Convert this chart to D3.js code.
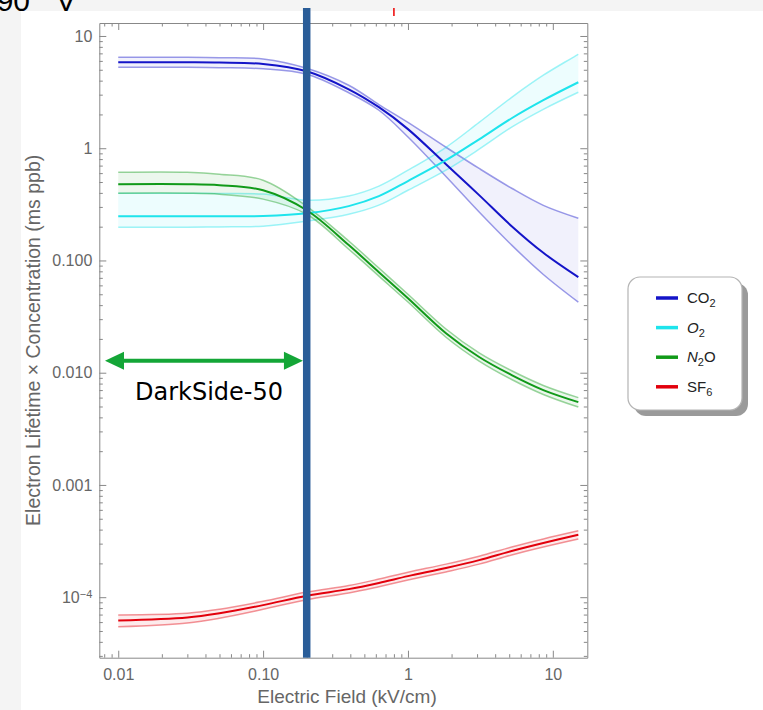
<!DOCTYPE html>
<html>
<head>
<meta charset="utf-8">
<script src="https://cdn.jsdelivr.net/npm/d3@7"></script>
<style>
  body { margin: 0; background: #fff; }
  svg { display: block; }
</style>
</head>
<body>
<div id="chart"></div>
<script>
// electric field sample points (kV/cm)
const field = [0.01, 0.03, 0.05, 0.1, 0.2, 0.39, 0.63, 1.0, 1.83, 3.1, 5.2, 8.6, 15];

// electron lifetime x concentration (ms ppb): central, upper, lower
const co2 = [5.83, 5.83, 5.8, 5.63, 4.85, 3.35, 2.32, 1.48, 0.72, 0.382, 0.202, 0.117, 0.071];
const co2Hi = [6.46, 6.46, 6.4, 6.25, 5.16, 3.64, 2.45, 1.7, 1.02, 0.66, 0.44, 0.31, 0.238];
const co2Lo = [5.26, 5.26, 5.22, 5.1, 4.56, 3.12, 2.18, 1.26, 0.56, 0.27, 0.137, 0.075, 0.0425];

const o2 = [0.248, 0.248, 0.248, 0.249, 0.263, 0.305, 0.374, 0.51, 0.782, 1.2, 1.85, 2.68, 3.87];
const o2Hi = [0.397, 0.397, 0.395, 0.39, 0.344, 0.375, 0.459, 0.637, 1.02, 1.7, 2.84, 4.47, 6.87];
const o2Lo = [0.198, 0.198, 0.199, 0.202, 0.224, 0.258, 0.311, 0.422, 0.637, 0.98, 1.54, 2.22, 3.15];

const n2o = [0.478, 0.478, 0.468, 0.422, 0.28, 0.137, 0.0787, 0.0461, 0.0225, 0.0138, 0.00952, 0.007, 0.00547];
const n2oHi = [0.611, 0.611, 0.586, 0.519, 0.304, 0.149, 0.0856, 0.05, 0.0245, 0.015, 0.0104, 0.0077, 0.006];
const n2oLo = [0.397, 0.397, 0.389, 0.352, 0.258, 0.126, 0.0725, 0.0426, 0.0207, 0.0127, 0.0087, 0.0064, 0.00494];

const sf6 = [6.2e-5, 6.6e-5, 7.2e-5, 8.5e-5, 1.03e-4, 1.18e-4, 1.34e-4, 1.54e-4, 1.82e-4, 2.14e-4, 2.58e-4, 3.04e-4, 3.6e-4];
const sf6Hi = [6.95e-5, 7.2e-5, 7.8e-5, 9.2e-5, 1.11e-4, 1.27e-4, 1.45e-4, 1.67e-4, 1.97e-4, 2.32e-4, 2.8e-4, 3.3e-4, 3.9e-4];
const sf6Lo = [5.45e-5, 5.9e-5, 6.5e-5, 7.8e-5, 9.5e-5, 1.09e-4, 1.24e-4, 1.42e-4, 1.68e-4, 1.97e-4, 2.38e-4, 2.8e-4, 3.3e-4];

const gasNames = ["CO2", "O2", "N2O", "SF6"];
const gasColors = ["#1414c8", "#1ee4ec", "#119a19", "#e2000c"];

const xTicks = [0.01, 0.1, 1, 10];
const xTickLabels = ["0.01", "0.10", "1", "10"];
const yTicks = [1e-4, 1e-3, 1e-2, 1e-1, 1, 10];
const yTickLabels = ["10-4", "0.001", "0.010", "0.100", "1", "10"];

// DarkSide-50 operating field and the arrow under it
const darkSideField = 0.2;
const arrowSpan = [0.0081, 0.2];
const arrowLevel = 0.01276;
const redMarkField = 0.8;

const W = 763, H = 710;
const frame = { left: 99.3, right: 587.3, top: 23, bottom: 657.7 };
const font = "'Liberation Sans', Arial, Helvetica, sans-serif";

const x = d3.scaleLog().domain([0.0074, 17.3]).range([frame.left, frame.right]);
const y = d3.scaleLog().domain([2.89e-5, 13.05]).range([frame.bottom, frame.top]);

const svg = d3.select("#chart").append("svg").attr("width", W).attr("height", H);

svg.append("rect").attr("width", W).attr("height", H).attr("fill", "#f4f4f4");
svg.append("rect").attr("x", 21).attr("y", 11).attr("width", W - 21).attr("height", H - 11).attr("fill", "#fff");

// cropped leftovers at the very top
svg.append("text").attr("x", 30).attr("y", 11).attr("text-anchor", "end")
  .attr("font-family", font).attr("font-size", 30).attr("fill", "#000").text("90");
svg.append("text").attr("x", 66).attr("y", 11).attr("text-anchor", "middle")
  .attr("font-family", font).attr("font-size", 30).attr("fill", "#000").text("V");
svg.append("line").attr("x1", x(redMarkField)).attr("x2", x(redMarkField)).attr("y1", 8).attr("y2", 16)
  .attr("stroke", "#e00").attr("stroke-width", 1.5);

// minor tick values
const minors = (lo, hi) => {
  const out = [];
  for (let e = Math.floor(Math.log10(lo)); e <= Math.ceil(Math.log10(hi)); e++)
    for (let k = 2; k <= 9; k++) {
      const v = k * Math.pow(10, e);
      if (v > lo && v < hi) out.push(v);
    }
  return out;
};
const xMinor = minors(x.domain()[0], x.domain()[1]);
const yMinor = minors(y.domain()[0], y.domain()[1]);

const axisStyle = (g) => {
  g.selectAll("path,line").attr("stroke", "#888").attr("stroke-width", 1);
  g.selectAll("text").attr("fill", "#666").attr("font-family", font).attr("font-size", 16);
};

const addAxis = (axisFn, scale, pos, major, labels) => {
  const vertical = axisFn === d3.axisLeft || axisFn === d3.axisRight;
  const gMinor = svg.append("g").attr("transform", pos)
    .call(axisFn(scale).tickValues(vertical ? yMinor : xMinor)
      .tickSize(-3.5).tickSizeOuter(0).tickFormat(""));
  gMinor.select(".domain").remove();
  const g = svg.append("g").attr("transform", pos)
    .call(axisFn(scale).tickValues(major).tickSize(-7).tickSizeOuter(0).tickPadding(7)
      .tickFormat(labels ? (d, i) => labels[i] : ""));
  axisStyle(gMinor);
  axisStyle(g);
  return g;
};

const gx = addAxis(d3.axisBottom, x, `translate(0,${frame.bottom})`, xTicks, xTickLabels);
addAxis(d3.axisTop, x, `translate(0,${frame.top})`, xTicks, null);
const gy = addAxis(d3.axisLeft, y, `translate(${frame.left},0)`, yTicks, yTickLabels);
addAxis(d3.axisRight, y, `translate(${frame.right},0)`, yTicks, null);

gx.selectAll("text").attr("dy", "0.95em");
gy.selectAll("text").each(function (d, i) {
  const t = d3.select(this);
  if (yTickLabels[i] === "10-4") {
    t.text("10");
    t.append("tspan").attr("dy", "-0.45em").attr("font-size", 11).text("\u22124");
  }
});

// axis titles
svg.append("text").attr("x", 347).attr("y", 703)
  .attr("text-anchor", "middle").attr("font-family", font).attr("font-size", 19).attr("fill", "#666")
  .text("Electric Field (kV/cm)");
svg.append("text").attr("transform", `translate(40,${(frame.top + frame.bottom) / 2}) rotate(-90)`)
  .attr("text-anchor", "middle").attr("font-family", font).attr("font-size", 19.5).attr("fill", "#666")
  .text("Electron Lifetime \u00d7 Concentration (ms ppb)");

// curves
const series = [
  { mid: co2, hi: co2Hi, lo: co2Lo },
  { mid: o2, hi: o2Hi, lo: o2Lo },
  { mid: n2o, hi: n2oHi, lo: n2oLo },
  { mid: sf6, hi: sf6Hi, lo: sf6Lo },
];

const curve = d3.curveCatmullRom.alpha(0.5);
const line = d3.line().x((d) => x(d[0])).y((d) => y(d[1])).curve(curve);
const area = d3.area().x((d) => x(d[0])).y0((d) => y(d[1])).y1((d) => y(d[2])).curve(curve);

const plot = svg.append("g");
series.forEach((s, i) => {
  const c = gasColors[i];
  plot.append("path").attr("d", area(field.map((f, j) => [f, s.lo[j], s.hi[j]])))
    .attr("fill", c).attr("fill-opacity", i === 0 ? 0.06 : 0.08);
  [s.hi, s.lo].forEach((b) => {
    plot.append("path").attr("d", line(field.map((f, j) => [f, b[j]])))
      .attr("fill", "none").attr("stroke", c).attr("stroke-opacity", 0.42).attr("stroke-width", 1.5);
  });
});
series.forEach((s, i) => {
  plot.append("path").attr("d", line(field.map((f, j) => [f, s.mid[j]])))
    .attr("fill", "none").attr("stroke", gasColors[i]).attr("stroke-width", 2);
});

// DarkSide-50 field
const barW = 7.5;
svg.append("rect").attr("x", x(darkSideField) - barW / 2).attr("y", 8)
  .attr("width", barW).attr("height", frame.bottom - 8).attr("fill", "#2a5d98");

// arrow
const ax0 = x(arrowSpan[0]), ax1 = x(arrowSpan[1]) - barW / 2, ay = y(arrowLevel);
const headL = 19, headH = 9;
const green = "#14a637";
svg.append("line").attr("x1", ax0 + 10).attr("x2", ax1 - 10).attr("y1", ay).attr("y2", ay)
  .attr("stroke", green).attr("stroke-width", 4);
svg.append("path").attr("d", `M${ax0},${ay}L${ax0 + headL},${ay - headH}L${ax0 + headL},${ay + headH}Z`).attr("fill", green);
svg.append("path").attr("d", `M${ax1},${ay}L${ax1 - headL},${ay - headH}L${ax1 - headL},${ay + headH}Z`).attr("fill", green);
svg.append("text").attr("x", 209).attr("y", ay + 39.5).attr("text-anchor", "middle")
  .attr("font-family", "'DejaVu Sans', sans-serif").attr("font-size", 24).attr("fill", "#000")
  .text("DarkSide-50");

// legend
const lg = svg.append("g").attr("transform", "translate(628,277)");
lg.append("rect").attr("x", 6).attr("y", 6).attr("width", 114).attr("height", 133).attr("rx", 12)
  .attr("fill", "#9a9a9a");
lg.append("rect").attr("width", 114).attr("height", 133).attr("rx", 12)
  .attr("fill", "#fff").attr("stroke", "#b4b4b4").attr("stroke-width", 1.2);

const sub = (t, s) => t.append("tspan").attr("dy", 4).attr("font-size", 11).text(s);
const legendLabel = (t, name) => {
  if (name === "CO2") { t.append("tspan").text("CO"); sub(t, "2"); }
  else if (name === "O2") { t.append("tspan").attr("font-style", "italic").text("O"); sub(t, "2"); }
  else if (name === "N2O") {
    t.append("tspan").attr("font-style", "italic").text("N");
    sub(t, "2");
    t.append("tspan").attr("dy", -4).text("O");
  } else { t.append("tspan").text("SF"); sub(t, "6"); }
};

gasNames.forEach((name, i) => {
  const ry = 21 + i * 29.6;
  lg.append("line").attr("x1", 28).attr("x2", 50).attr("y1", ry).attr("y2", ry)
    .attr("stroke", gasColors[i]).attr("stroke-width", 3.5);
  const t = lg.append("text").attr("x", 59).attr("y", ry + 5)
    .attr("font-family", font).attr("font-size", 15).attr("fill", "#222");
  legendLabel(t, name);
});
</script>
</body>
</html>
